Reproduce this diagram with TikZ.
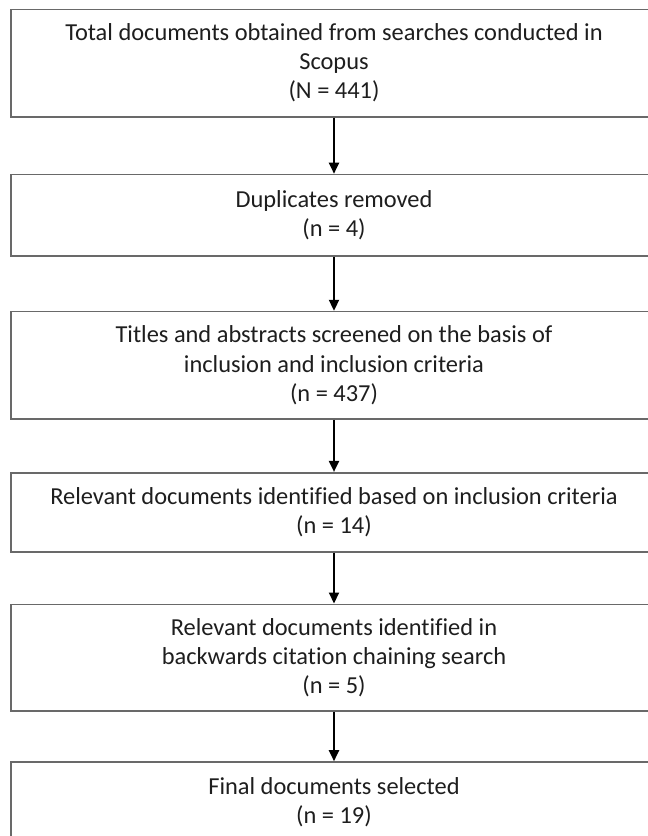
\documentclass[tikz,border=0pt]{standalone}
\usepackage{fontspec}
\setmainfont{Carlito}[Ligatures=NoCommon]
\usetikzlibrary{arrows.meta}

\definecolor{boxcolor}{RGB}{105,105,105}
\definecolor{textcolor}{RGB}{30,30,30}

\tikzset{
  stagebox/.style={draw=boxcolor, line width=0.8pt, rectangle, minimum width=323pt,
    align=center, text=textcolor, inner sep=0pt,
    font=\fontsize{12.2}{14.6}\selectfont},
  flowarrow/.style={-{Triangle[length=5.5pt,width=5pt]}, line width=1pt, black}
}

\begin{document}
\begin{tikzpicture}[x=0.5pt, y=-0.5pt]
  % Fix the page to the cropped area
  \clip (0,0) rectangle (648,836);
  \fill[white] (0,0) rectangle (648,836);

  % Stages of the search
  \node[stagebox, minimum height=53.7pt] (total) at (334,63)
    {Total documents obtained from searches conducted in\\Scopus\\(N = 441)};
  \node[stagebox, minimum height=40.8pt] (dupl) at (334,215.3)
    {Duplicates removed\\(n = 4)};
  \node[stagebox, minimum height=53.7pt] (screen) at (334,365.3)
    {Titles and abstracts screened on the basis of\\inclusion and inclusion criteria\\(n = 437)};
  \node[stagebox, minimum height=39.5pt] (relevant) at (334,512.2)
    {Relevant documents identified based on inclusion criteria\\(n = 14)};
  \node[stagebox, minimum height=53.2pt] (chain) at (334,657.5)
    {Relevant documents identified in\\backwards citation chaining search\\(n = 5)};
  \node[stagebox, minimum height=40pt] (final) at (334,802)
    {Final documents selected\\(n = 19)};

  % Connect the stages
  \draw[flowarrow] (total) -- (dupl);
  \draw[flowarrow] (dupl) -- (screen);
  \draw[flowarrow] (screen) -- (relevant);
  \draw[flowarrow] (relevant) -- (chain);
  \draw[flowarrow] (chain) -- (final);
\end{tikzpicture}
\end{document}
